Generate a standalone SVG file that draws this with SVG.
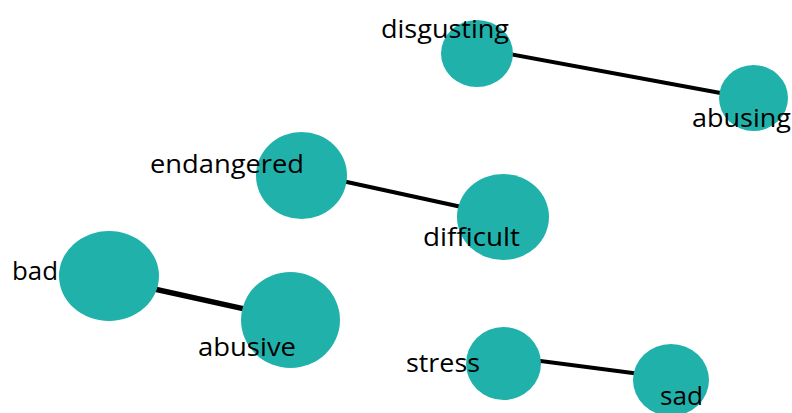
<svg xmlns="http://www.w3.org/2000/svg" width="792" height="413" viewBox="0 0 792 413">
<style>
.node{fill:#20B2AA}
.lbl{font-family:"Open Sans","Liberation Sans",sans-serif;font-size:26px;fill:#000}
.edge{stroke:#000;stroke-width:4;fill:none}
</style>
<rect width="792" height="413" fill="#fff"/>
<g id="edges">
<line class="edge" x1="477" y1="48" x2="753" y2="99"/>
<line class="edge" x1="301" y1="172" x2="503" y2="216"/>
<line class="edge" x1="109" y1="279" x2="290" y2="319" style="stroke-width:5.5"/>
<line class="edge" x1="503" y1="356" x2="671" y2="378"/>
</g>
<g id="disgusting"><ellipse class="node" cx="477" cy="53.5" rx="36" ry="33.5"/><text class="lbl" x="381" y="38" textLength="128" lengthAdjust="spacingAndGlyphs">disgusting</text></g>
<g id="abusing"><ellipse class="node" cx="753.5" cy="98" rx="34.5" ry="33"/><text class="lbl" x="692" y="127" textLength="99" lengthAdjust="spacingAndGlyphs">abusing</text></g>
<g id="endangered"><ellipse class="node" cx="301.5" cy="175.5" rx="45.5" ry="43.5"/><text class="lbl" x="150" y="173" textLength="154" lengthAdjust="spacingAndGlyphs">endangered</text></g>
<g id="difficult"><ellipse class="node" cx="503" cy="217" rx="46" ry="43"/><text class="lbl" x="423" y="246" textLength="97" lengthAdjust="spacingAndGlyphs">difficult</text></g>
<g id="bad"><ellipse class="node" cx="109" cy="276" rx="50" ry="45"/><text class="lbl" x="12" y="280" textLength="46" lengthAdjust="spacingAndGlyphs">bad</text></g>
<g id="abusive"><ellipse class="node" cx="290.5" cy="320" rx="49.5" ry="48"/><text class="lbl" x="198" y="356" textLength="98" lengthAdjust="spacingAndGlyphs">abusive</text></g>
<g id="stress"><ellipse class="node" cx="503.5" cy="363.5" rx="37.5" ry="36.5"/><text class="lbl" x="406" y="372" textLength="74" lengthAdjust="spacingAndGlyphs">stress</text></g>
<g id="sad"><ellipse class="node" cx="671" cy="380" rx="38" ry="36"/><text class="lbl" x="660" y="405" textLength="43" lengthAdjust="spacingAndGlyphs">sad</text></g>
</svg>
